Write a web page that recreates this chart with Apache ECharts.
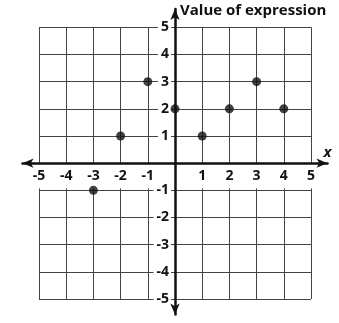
<!DOCTYPE html>
<html lang="en">
<head>
    <meta charset="UTF-8">
    <title>Value of expression</title>
    <style>
        * {
        margin: 0;
        padding: 0;
        }
        body {
        background: #fff;
        }
        #chart-container {
        width: 339px;
        height: 323px;
        }
    </style>
</head>
<body>
    <div id="chart-container"></div>
    <script src="https://cdn.jsdelivr.net/npm/echarts@6/dist/echarts.min.js"></script>
    <script>
        // plotted points
        var xValues = [-3, -2, -1, 0, 1, 2, 3, 4];
        var yValues = [-1, 1, 3, 2, 1, 2, 3, 2];

        // tick labels (zero is left unlabelled on both axes)
        var xTicks = [-5, -4, -3, -2, -1, 1, 2, 3, 4, 5];
        var yTicks = [-5, -4, -3, -2, -1, 1, 2, 3, 4, 5];

        var xName = 'x';
        var yName = 'Value of expression';

        var font = '"Open Sans", sans-serif';
        var ink = '#111';

        var lo = xTicks[0];
        var hi = xTicks[xTicks.length - 1];

        // the axes run a little past the grid so the arrows stick out
        var W = 339, H = 323;
        var pad = { left: 22.5, right: 11.5, top: 9, bottom: 8.5 };
        var xMin = -5.607, xMax = 5.607;
        var yMin = -5.57, yMax = 5.674;

        // move both axes from the grid edge onto zero
        var xAxisShift = -(H - pad.top - pad.bottom) * (0 - yMin) / (yMax - yMin);
        var yAxisShift = -(W - pad.left - pad.right) * (0 - xMin) / (xMax - xMin);

        // grid: verticals run down to the axis above it, and start again at -1 below it
        var gridLines = [];
        xTicks.forEach(function (t) {
            gridLines.push({ coords: [[t, 0], [t, hi]] });
            gridLines.push({ coords: [[t, -0.93], [t, lo]] });
        });
        yTicks.forEach(function (t) {
            gridLines.push({ coords: [[lo, t], [hi, t]] });
        });

        var points = xValues.map(function (x, i) {
            return [x, yValues[i]];
        });

        var dom = document.getElementById('chart-container');
        var myChart = echarts.init(dom, null, { renderer: 'canvas' });

        var labelStyle = {
            fontFamily: font,
            fontWeight: 'bold',
            fontSize: 14,
            color: ink
        };

        var arrowLine = {
            onZero: false,
            symbol: ['arrow', 'arrow'],
            symbolSize: [7, 11],
            lineStyle: { color: ink, width: 2.5 }
        };

        var option = {
            animation: false,
            backgroundColor: '#fff',
            grid: {
                left: pad.left,
                right: pad.right,
                top: pad.top,
                bottom: pad.bottom,
                containLabel: false
            },
            xAxis: {
                type: 'value',
                min: xMin,
                max: xMax,
                position: 'bottom',
                offset: xAxisShift,
                z: 3,
                name: xName,
                nameLocation: 'end',
                nameGap: 0,
                nameTextStyle: {
                    fontFamily: font,
                    fontStyle: 'italic',
                    fontWeight: 'bold',
                    fontSize: 15,
                    color: ink,
                    align: 'center',
                    verticalAlign: 'bottom',
                    padding: [0, 0, 3, 0]
                },
                axisLine: arrowLine,
                axisTick: { show: false },
                splitLine: { show: false },
                axisLabel: Object.assign({ customValues: xTicks, margin: 6 }, labelStyle)
            },
            yAxis: {
                type: 'value',
                min: yMin,
                max: yMax,
                position: 'left',
                offset: yAxisShift,
                z: 3,
                name: yName,
                nameLocation: 'end',
                nameGap: -2,
                nameTextStyle: {
                    fontFamily: font,
                    fontWeight: 'bold',
                    fontSize: 15,
                    color: ink,
                    align: 'left',
                    verticalAlign: 'middle',
                    padding: [0, 0, 0, 5]
                },
                axisLine: arrowLine,
                axisTick: { show: false },
                splitLine: { show: false },
                axisLabel: Object.assign({
                    customValues: yTicks,
                    margin: 4,
                    backgroundColor: '#fff',
                    padding: [1, 2, 1, 3]
                }, labelStyle)
            },
            series: [
                {
                    type: 'lines',
                    coordinateSystem: 'cartesian2d',
                    silent: true,
                    z: 1,
                    lineStyle: { color: '#444', width: 1, opacity: 1 },
                    data: gridLines
                },
                {
                    type: 'scatter',
                    z: 4,
                    symbol: 'circle',
                    symbolSize: 9,
                    itemStyle: { color: ink },
                    data: points
                }
            ]
        };

        myChart.setOption(option);
        window.addEventListener('resize', myChart.resize);
    </script>
</body>
</html>
